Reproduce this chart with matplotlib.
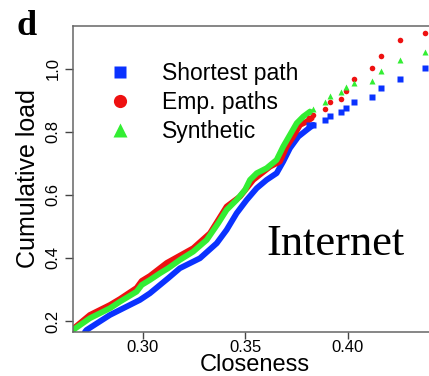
import matplotlib

matplotlib.use("Agg")
import matplotlib.pyplot as plt
from matplotlib.lines import Line2D

plt.rcParams["font.family"] = ["Liberation Sans", "DejaVu Sans"]

# closeness / cumulative load, dense part of each curve
green_x = [0.2659, 0.2741, 0.2839, 0.2888, 0.2969, 0.2994, 0.3034, 0.3083,
           0.3123, 0.3180, 0.3245, 0.3311, 0.3367, 0.3408, 0.3457, 0.3498,
           0.3522, 0.3555, 0.3603, 0.3652, 0.3684, 0.3717, 0.3750, 0.3782,
           0.3815]
green_y = [0.1714, 0.2086, 0.2403, 0.2613, 0.2930, 0.3143, 0.3302, 0.3514,
           0.3673, 0.3937, 0.4200, 0.4571, 0.5102, 0.5524, 0.5841, 0.6159,
           0.6476, 0.6689, 0.6848, 0.7111, 0.7533, 0.7905, 0.8276, 0.8486,
           0.8644]

red_x = [0.2659, 0.2741, 0.2839, 0.2888, 0.2969, 0.2994, 0.3034, 0.3116,
         0.3245, 0.3327, 0.3408, 0.3473, 0.3538, 0.3620, 0.3668, 0.3701,
         0.3733, 0.3766, 0.3799, 0.3823]
red_y = [0.1746, 0.2190, 0.2508, 0.2698, 0.3048, 0.3270, 0.3429, 0.3841,
         0.4308, 0.4784, 0.5629, 0.5946, 0.6476, 0.6898, 0.7057, 0.7533,
         0.7851, 0.8222, 0.8327, 0.8435]

blue_x = [0.2717, 0.2725, 0.2839, 0.2904, 0.2985, 0.3034, 0.3123, 0.3180,
          0.3278, 0.3360, 0.3408, 0.3457, 0.3506, 0.3555, 0.3603, 0.3652,
          0.3684, 0.3717, 0.3758, 0.3799, 0.3831]
blue_y = [0.1651, 0.1714, 0.2190, 0.2403, 0.2667, 0.2879, 0.3356, 0.3673,
          0.3990, 0.4467, 0.4889, 0.5419, 0.5841, 0.6213, 0.6476, 0.6689,
          0.7057, 0.7483, 0.7851, 0.8063, 0.8222]

# sparse high-closeness nodes (same closeness for all three)
tail_x = [0.3811, 0.3831, 0.3888, 0.3912, 0.3964, 0.3990, 0.4031, 0.4117,
          0.4159, 0.4254, 0.4376]
tail_red = [0.8435, 0.8540, 0.8720, 0.8952, 0.9038, 0.9302, 0.9683, 1.0041,
            1.0413, 1.0921, 1.1133]
tail_green = [0.8667, 0.8720, 0.8962, 0.9143, 0.9279, 0.9438, 0.9565, 0.9619,
              0.9946, 1.0286, 1.0549]
tail_blue = [0.8222, 0.8222, 0.8381, 0.8517, 0.8619, 0.8771, 0.8962, 0.9121,
             0.9387, 0.9673, 1.0022]

labels = ["Shortest path", "Emp. paths", "Synthetic"]
xticks = [0.30, 0.35, 0.40]
yticks = [0.2, 0.4, 0.6, 0.8, 1.0]

BLUE, RED, GREEN = "#0a32ff", "#ee1111", "#33ee33"

fig = plt.figure(figsize=(4.29, 3.76), dpi=100)
ax = fig.add_axes([0.1702, 0.117, 0.8484, 0.8139])

band = dict(lw=4.2, solid_joinstyle="round", solid_capstyle="round")
ax.plot(blue_x, blue_y, color=BLUE, **band)
ax.plot(red_x, red_y, color=RED, **band)
ax.plot(green_x, green_y, color=GREEN, **band)

ax.plot(tail_x, tail_blue, "s", color=BLUE, ms=3.8, mec="none")
ax.plot(tail_x, tail_red, "o", color=RED, ms=4.0, mec="none")
ax.plot(tail_x, tail_green, "^", color=GREEN, ms=4.6, mec="none")

ax.set_xlim(0.2659, 0.4434)
ax.set_ylim(0.165, 1.136)
ax.set_xticks(xticks)
ax.set_xticklabels([f"{v:.2f}" for v in xticks])
ax.set_yticks(yticks)
ax.set_yticklabels([f"{v:.1f}" for v in yticks], rotation=90, va="center")
ax.tick_params(labelsize=12, length=6, width=1, color="#444444", pad=3)
ax.tick_params(axis="x", length=5, pad=1)

for side in ax.spines.values():
    side.set_color("#666666")
    side.set_linewidth(1.1)

ax.set_xlabel("Closeness", fontsize=17, labelpad=-1)
ax.set_ylabel("Cumulative load", fontsize=18, labelpad=4)

handles = [
    Line2D([], [], ls="none", marker="s", color=BLUE, ms=9, mec="none"),
    Line2D([], [], ls="none", marker="o", color=RED, ms=9.5, mec="none"),
    Line2D([], [], ls="none", marker="^", color=GREEN, ms=10.5, mec="none"),
]
ax.legend(handles, labels, loc="upper left", bbox_to_anchor=(0.066, 0.912),
          frameon=False, fontsize=16.5, handletextpad=1.25, labelspacing=0.27,
          borderaxespad=0, handlelength=1.2)

ax.text(0.3941, 0.4095, "Internet", family="Liberation Serif", fontsize=32,
        ha="center", va="baseline")
fig.text(0.0396, 0.907, "d", family="Liberation Serif", fontsize=26,
         fontweight="bold", va="baseline")

fig.savefig("out.png", dpi=100)
